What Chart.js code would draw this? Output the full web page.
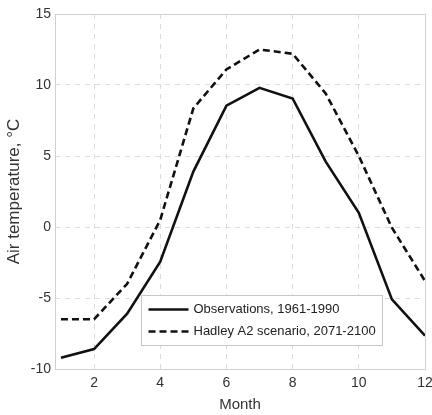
<!DOCTYPE html>
<html><head><meta charset="utf-8">
<script src="https://cdn.jsdelivr.net/npm/chart.js@4.4.0/dist/chart.umd.min.js"></script>
<style>html,body{margin:0;padding:0;background:#fff}#c{display:block}</style>
</head><body>
<canvas id="c" width="432" height="415"></canvas>
<script>
const months = [1,2,3,4,5,6,7,8,9,10,11,12];
const observations = [-9.2,-8.6,-6.1,-2.45,3.9,8.55,9.8,9.05,4.6,1.0,-5.1,-7.65];
const hadley = [-6.5,-6.5,-4.0,0.5,8.35,11.1,12.5,12.2,9.4,5.0,-0.05,-3.8];
const seriesLabels = ['Observations, 1961-1990','Hadley A2 scenario, 2071-2100'];
const xTicks = [2,4,6,8,10,12];
const yTicks = [-10,-5,0,5,10,15];
const FONT = 'Liberation Sans, Arial, sans-serif';

const legendPlugin = {
  id:'inLegend',
  afterDraw(chart){
    const ctx = chart.ctx;
    const x0=141.5, y0=295.5, w=241, h=50;
    ctx.save();
    ctx.fillStyle='#fff'; ctx.strokeStyle='#c8c8c8'; ctx.lineWidth=1;
    ctx.fillRect(x0,y0,w,h); ctx.strokeRect(x0,y0,w,h);
    chart.data.datasets.forEach((ds,i)=>{
      const yy = y0+14+i*22;
      ctx.beginPath(); ctx.setLineDash(ds.borderDash||[]);
      ctx.strokeStyle=ds.borderColor; ctx.lineWidth=ds.borderWidth;
      ctx.moveTo(x0+7,yy); ctx.lineTo(x0+47,yy); ctx.stroke();
      ctx.setLineDash([]);
      ctx.fillStyle='#222'; ctx.font='13px '+FONT; ctx.textBaseline='middle';
      ctx.fillText(ds.label,x0+52,yy);
    });
    ctx.restore();
  }
};
const boxPlugin = {
  id:'box',
  beforeDatasetsDraw(chart){
    const a=chart.chartArea, ctx=chart.ctx;
    ctx.save(); ctx.strokeStyle='#d0d0d0'; ctx.lineWidth=1;
    ctx.strokeRect(Math.round(a.left)+0.5,Math.round(a.top)+0.5,Math.round(a.right-a.left),Math.round(a.bottom-a.top));
    ctx.restore();
  }
};

new Chart(document.getElementById('c'),{
  type:'line',
  data:{datasets:[
    {label:seriesLabels[0],data:months.map((m,i)=>({x:m,y:observations[i]})),borderColor:'#111',borderWidth:2.6,pointRadius:0,tension:0,fill:false},
    {label:seriesLabels[1],data:months.map((m,i)=>({x:m,y:hadley[i]})),borderColor:'#111',borderWidth:2.6,borderDash:[7,4],pointRadius:0,tension:0,fill:false}
  ]},
  options:{
    responsive:false,animation:false,
    layout:{padding:{top:14,right:7,bottom:0,left:4}},
    plugins:{legend:{display:false},tooltip:{enabled:false}},
    scales:{
      x:{type:'linear',min:0.82,max:12,
        afterBuildTicks(s){s.ticks=xTicks.map(v=>({value:v}));},
        afterFit(s){s.paddingRight=0;s.paddingLeft=0;s.height=46;},
        grid:{color:'#dcdcdc',drawTicks:false,tickLength:0},
        border:{display:false,dash:[5,5]},
        ticks:{color:'#333',font:{family:FONT,size:14},padding:6,maxRotation:0},
        title:{display:true,text:'Month',color:'#333',font:{family:FONT,size:15},padding:{top:0,bottom:1}}
      },
      y:{min:-10,max:15,
        afterBuildTicks(s){s.ticks=yTicks.map(v=>({value:v}));},
        afterFit(s){s.width=51;},
        grid:{color:'#dcdcdc',drawTicks:false,tickLength:0},
        border:{display:false,dash:[5,5]},
        ticks:{color:'#333',font:{family:FONT,size:14},padding:4},
        title:{display:true,text:'Air temperature, °C',color:'#333',font:{family:FONT,size:17},padding:{top:0,bottom:2}}
      }
    }
  },
  plugins:[boxPlugin,legendPlugin]
});
</script>
</body></html>
